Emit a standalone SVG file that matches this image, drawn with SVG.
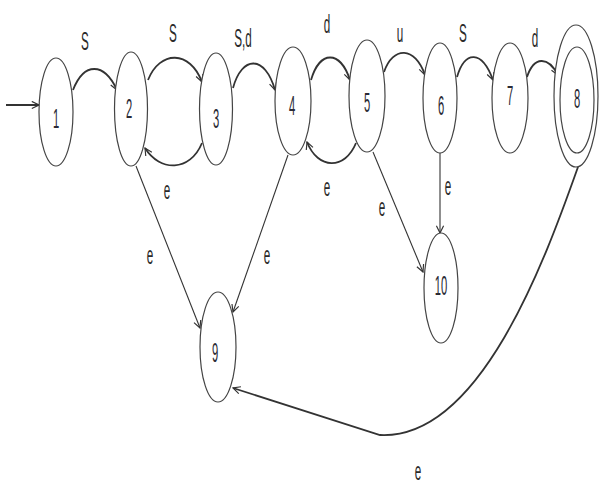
<svg xmlns="http://www.w3.org/2000/svg" width="600" height="488" viewBox="0 0 600 488">
<style>
.node ellipse{fill:#fff;stroke:#444;stroke-width:1.2}
.node text{font-family:"Liberation Sans",Arial,sans-serif;font-size:28px;fill:#2a2a35;text-anchor:middle}
.edge{fill:none;stroke:#333;stroke-width:1.8}
.thin{stroke-width:1.1}
.lbl{font-family:"Liberation Sans",Arial,sans-serif;font-size:26px;fill:#2a2a2a;text-anchor:middle}
</style>
<defs>
<marker id="ah" viewBox="0 0 10 10" refX="9" refY="5" markerWidth="9" markerHeight="9" markerUnits="userSpaceOnUse" orient="auto">
<path d="M1,1 L9,5 L1,9" fill="none" stroke="#333" stroke-width="1.3"/>
</marker>
</defs>
<rect width="600" height="488" fill="#fff"/>
<g id="connectors">
<path class="edge" d="M6,105 L39,105" stroke-width="3" marker-end="url(#ah)"/>
<path class="edge" d="M73,90 C84,62 104,62 117,90" marker-end="url(#ah)"/>
<path class="edge" d="M148,80 C160,50 190,50 202,82" marker-end="url(#ah)"/>
<path class="edge" d="M202,143 C190,172 160,172 145,148" marker-end="url(#ah)"/>
<path class="edge" d="M233,88 C242,55 265,55 275,90" marker-end="url(#ah)"/>
<path class="edge" d="M311,80 C320,50 340,50 350,80" marker-end="url(#ah)"/>
<path class="edge" d="M356,143 C345,170 318,170 307,142" marker-end="url(#ah)"/>
<path class="edge" d="M384,72 C393,46 415,46 425,75" marker-end="url(#ah)"/>
<path class="edge" d="M457,77 C465,50 482,50 493,80" marker-end="url(#ah)"/>
<path class="edge" d="M527,77 C534,56 548,56 558,75" marker-end="url(#ah)"/>
<path class="edge thin" d="M136,166 L200,328" marker-end="url(#ah)"/>
<path class="edge thin" d="M288,155 L233,312" marker-end="url(#ah)"/>
<path class="edge thin" d="M440,153 L440,233" marker-end="url(#ah)"/>
<path class="edge thin" d="M373,152 L423,272" marker-end="url(#ah)"/>
<path class="edge" d="M578,167 C545,260 480,440 380,435 L233,388" marker-end="url(#ah)"/>
</g>
<g id="labels">
<text class="lbl" transform="translate(85,50) scale(0.45,1)">S</text>
<text class="lbl" transform="translate(173,42) scale(0.45,1)">S</text>
<text class="lbl" transform="translate(167,199) scale(0.45,1)">e</text>
<text class="lbl" transform="translate(243,47) scale(0.45,1)">S,d</text>
<text class="lbl" transform="translate(327,33) scale(0.45,1)">d</text>
<text class="lbl" transform="translate(327,196) scale(0.45,1)">e</text>
<text class="lbl" transform="translate(400,42) scale(0.45,1)">u</text>
<text class="lbl" transform="translate(463,42) scale(0.45,1)">S</text>
<text class="lbl" transform="translate(535,47) scale(0.45,1)">d</text>
<text class="lbl" transform="translate(150,264) scale(0.45,1)">e</text>
<text class="lbl" transform="translate(267,264) scale(0.45,1)">e</text>
<text class="lbl" transform="translate(448,195) scale(0.45,1)">e</text>
<text class="lbl" transform="translate(382,216) scale(0.45,1)">e</text>
<text class="lbl" transform="translate(418,480) scale(0.45,1)">e</text>
</g>
<g id="n1" class="node"><ellipse cx="56" cy="112" rx="17" ry="54"/><text transform="translate(56,128) scale(0.4,1)">1</text></g>
<g id="n2" class="node"><ellipse cx="131" cy="109" rx="16.5" ry="57"/><text transform="translate(129,118) scale(0.4,1)">2</text></g>
<g id="n3" class="node"><ellipse cx="216" cy="109" rx="16.5" ry="56"/><text transform="translate(216,128) scale(0.4,1)">3</text></g>
<g id="n4" class="node"><ellipse cx="293" cy="101" rx="18" ry="54"/><text transform="translate(292,115) scale(0.4,1)">4</text></g>
<g id="n5" class="node"><ellipse cx="367" cy="96" rx="18" ry="56"/><text transform="translate(367,112) scale(0.4,1)">5</text></g>
<g id="n6" class="node"><ellipse cx="440" cy="98" rx="17" ry="55"/><text transform="translate(441,115) scale(0.4,1)">6</text></g>
<g id="n7" class="node"><ellipse cx="510" cy="98" rx="18" ry="55"/><text transform="translate(510,105) scale(0.4,1)">7</text></g>
<g id="n8" class="node"><ellipse cx="576" cy="96" rx="22" ry="71"/><ellipse cx="577" cy="100" rx="17" ry="53"/><text transform="translate(577,108) scale(0.4,1)">8</text></g>
<g id="n9" class="node"><ellipse cx="218" cy="347" rx="18" ry="55"/><text transform="translate(215,362) scale(0.4,1)">9</text></g>
<g id="n10" class="node"><ellipse cx="441" cy="288" rx="17" ry="55"/><text transform="translate(441,295) scale(0.4,1)">10</text></g>
</svg>
